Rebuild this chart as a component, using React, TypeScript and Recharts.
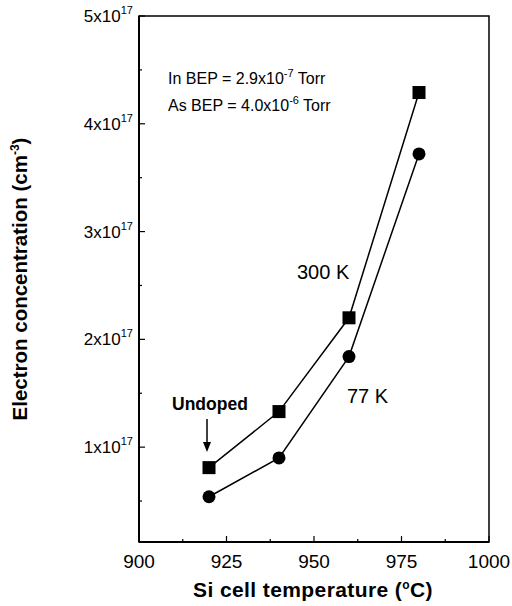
import { LineChart, Line, XAxis, YAxis, ReferenceArea } from 'recharts'

// Si cell temperature (°C)
const temps = [920, 940, 960, 980]
// electron concentration, units of 1e17 cm^-3
const n300K = [0.81, 1.33, 2.2, 4.29]
const n77K = [0.54, 0.9, 1.84, 3.72]

const xTicks = [900, 912.5, 925, 937.5, 950, 962.5, 975, 987.5, 1000]
const yTicks = [0.5, 1, 1.5, 2, 2.5, 3, 3.5, 4, 4.5, 5]

const data = temps.map((t, i) => ({ temp: t, n300: n300K[i], n77: n77K[i] }))

const FONT = '"Liberation Sans", Arial, sans-serif'
const W = 512
const H = 606
const LEFT = 139
const TOP = 16
const BOTTOM = 542
const RIGHT = 489

const XTick = ({ x, payload }) => {
  const v = payload.value
  const major = v % 25 === 0
  return (
    <g>
      <line x1={x} x2={x} y1={BOTTOM} y2={BOTTOM - (major ? 6 : 3)} stroke="#000" strokeWidth={1.2} />
      {major && (
        <text x={x} y={568} textAnchor="middle" fontSize={19} fontFamily={FONT} fill="#000">
          {v}
        </text>
      )}
    </g>
  )
}

const YTick = ({ y, payload }) => {
  const v = payload.value
  const major = Number.isInteger(v)
  return (
    <g>
      <line x1={LEFT} x2={LEFT + (major ? 6 : 3)} y1={y} y2={y} stroke="#000" strokeWidth={1.2} />
      {major && (
        <text x={LEFT - 6} y={y + 6} textAnchor="end" fontSize={17} fontFamily={FONT} fill="#000">
          <tspan>{v}x10</tspan>
          <tspan dy={-8} fontSize={11}>17</tspan>
        </text>
      )}
    </g>
  )
}

const Square = ({ cx, cy }) => <rect x={cx - 6.5} y={cy - 6.5} width={13} height={13} fill="#000" />
const Circle = ({ cx, cy }) => <circle cx={cx} cy={cy} r={6.5} fill="#000" />

export default function App() {
  return (
    <div style={{ position: 'absolute', left: 0, top: 0, background: '#fff' }}>
      <LineChart width={W} height={H} data={data} margin={{ top: TOP, right: W - RIGHT, left: 0, bottom: 0 }}>
        <XAxis
          dataKey="temp"
          type="number"
          domain={[900, 1000]}
          ticks={xTicks}
          tick={<XTick />}
          tickLine={false}
          axisLine={{ stroke: '#000', strokeWidth: 2 }}
          height={H - BOTTOM}
          interval={0}
        />
        <YAxis
          type="number"
          domain={[0.12, 5]}
          ticks={yTicks}
          tick={<YTick />}
          tickLine={false}
          axisLine={{ stroke: '#000', strokeWidth: 2 }}
          width={LEFT}
          interval={0}
          allowDataOverflow
        />
        <ReferenceArea x1={900} x2={1000} y1={0.12} y2={5} fill="none" stroke="#000" strokeWidth={1.5} />
        <Line dataKey="n300" stroke="#000" strokeWidth={1.5} dot={<Square />} isAnimationActive={false} />
        <Line dataKey="n77" stroke="#000" strokeWidth={1.5} dot={<Circle />} isAnimationActive={false} />

        <text x={168} y={84} fontSize={16} fontFamily={FONT} fill="#000">
          <tspan>In BEP = 2.9x10</tspan>
          <tspan dy={-7} fontSize={11}>-7</tspan>
          <tspan dy={7}> Torr</tspan>
        </text>
        <text x={168} y={111} fontSize={16} fontFamily={FONT} fill="#000">
          <tspan>As BEP = 4.0x10</tspan>
          <tspan dy={-7} fontSize={11}>-6</tspan>
          <tspan dy={7}> Torr</tspan>
        </text>
        <text x={297} y={279} fontSize={20} fontFamily={FONT} fill="#000">300 K</text>
        <text x={347} y={403} fontSize={20} fontFamily={FONT} fill="#000">77 K</text>
        <text x={172} y={410} fontSize={17.5} fontWeight="bold" fontFamily={FONT} fill="#000">Undoped</text>
        <line x1={207} x2={207} y1={419} y2={444} stroke="#000" strokeWidth={1.5} />
        <polygon points="203,442 211,442 207,452" fill="#000" />

        <text x={313} y={597} textAnchor="middle" fontSize={21} letterSpacing={0.4} fontWeight="bold" fontFamily={FONT} fill="#000">
          <tspan>Si cell temperature (</tspan>
          <tspan dy={-8} fontSize={12}>o</tspan>
          <tspan dy={8}>C)</tspan>
        </text>
        <text
          transform="translate(27,279) rotate(-90)"
          textAnchor="middle"
          fontSize={20.5}
          fontWeight="bold"
          fontFamily={FONT}
          fill="#000"
        >
          <tspan>Electron  concentration (cm</tspan>
          <tspan dy={-8} fontSize={12}>-3</tspan>
          <tspan dy={8}>)</tspan>
        </text>
      </LineChart>
    </div>
  )
}
